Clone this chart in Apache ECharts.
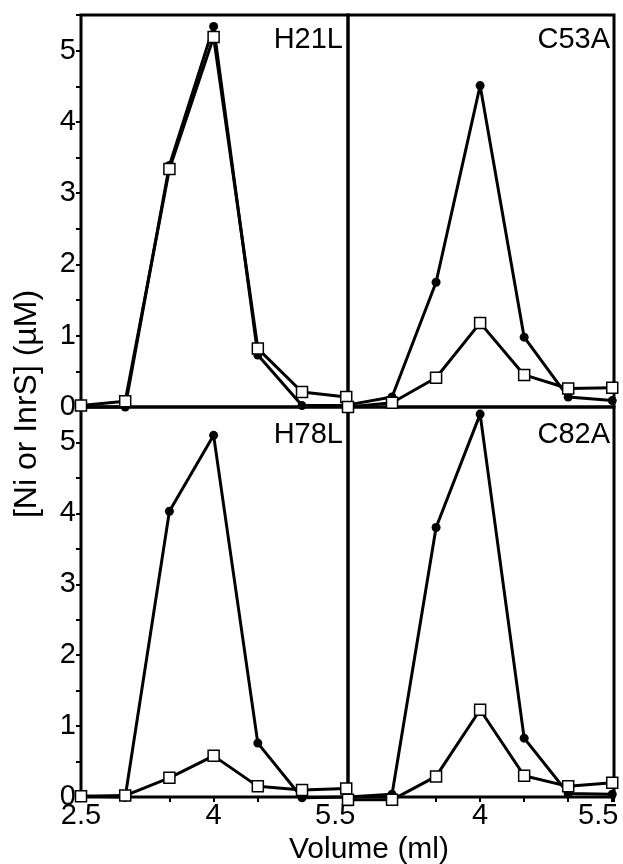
<!DOCTYPE html>
<html>
<head>
<meta charset="utf-8">
<script src="https://cdn.jsdelivr.net/npm/echarts@6/dist/echarts.min.js"></script>
<style>
html, body { margin: 0; padding: 0; background: #fff; }
#chart { width: 623px; height: 864px; }
</style>
</head>
<body>
<div id="chart"></div>
<script>
// ---- data ----
const volume = [2.5, 3.0, 3.5, 4.0, 4.5, 5.0, 5.5];
const panelNames = ['H21L', 'C53A', 'H78L', 'C82A'];
// filled circles
const filledH21L = [0.00, 0.00, 3.39, 5.34, 0.73, 0.02, 0.02];
const filledC53A = [0.03, 0.14, 1.75, 4.51, 0.98, 0.14, 0.09];
const filledH78L = [0.01, 0.00, 4.03, 5.10, 0.76, -0.01, 0.00];
const filledC82A = [0.00, 0.04, 3.80, 5.40, 0.83, 0.05, 0.04];
// open squares
const openH21L = [0.02, 0.08, 3.34, 5.19, 0.82, 0.21, 0.14];
const openC53A = [0.00, 0.06, 0.41, 1.18, 0.45, 0.26, 0.27];
const openH78L = [0.01, 0.02, 0.27, 0.58, 0.15, 0.10, 0.12];
const openC82A = [-0.04, -0.04, 0.29, 1.23, 0.30, 0.15, 0.20];
const xTickLabels = [2.5, 4, 5.5];
const yTickLabels = [0, 1, 2, 3, 4, 5];

const filledSets = [filledH21L, filledC53A, filledH78L, filledC82A];
const openSets = [openH21L, openC53A, openH78L, openC82A];

const FONT = '"Liberation Sans", Arial, Helvetica, sans-serif';
const grids = [
  { left: 81, top: 15, width: 267, height: 392 },
  { left: 348, top: 15, width: 266, height: 392 },
  { left: 81, top: 407, width: 267, height: 390 },
  { left: 348, top: 407, width: 266, height: 390 }
];

const near = (a, b) => Math.abs(a - b) < 1e-6;

const xAxes = grids.map((g, i) => {
  const bottomRow = i >= 2;
  const leftCol = i % 2 === 0;
  return {
    type: 'value', gridIndex: i, min: 2.5, max: 5.52, interval: 0.5,
    axisLine: { show: false },
    splitLine: { show: false },
    axisTick: { show: bottomRow, length: 5, lineStyle: { color: '#000', width: 2 } },
    axisLabel: {
      show: bottomRow, margin: 4, color: '#000', fontSize: 29, fontFamily: FONT,
      showMinLabel: true, showMaxLabel: true,
      formatter: function (v) {
        if (!leftCol && near(v, xTickLabels[0])) return '';
        for (const t of xTickLabels) {
          if (near(v, t)) {
            if (near(t, xTickLabels[xTickLabels.length - 1])) return '{s|' + t + '}';
            return String(t);
          }
        }
        return '';
      },
      rich: { s: { fontSize: 29, fontFamily: FONT, color: '#000', padding: leftCol ? [0, 22, 0, 0] : [0, 28, 0, 0] } }
    }
  };
});

const yAxes = grids.map((g, i) => {
  const leftCol = i % 2 === 0;
  return {
    type: 'value', gridIndex: i, min: 0, max: 5.5, interval: 0.5,
    axisLine: { show: false },
    splitLine: { show: false },
    axisTick: { show: leftCol, length: 5, lineStyle: { color: '#000', width: 2 } },
    axisLabel: {
      show: leftCol, margin: 5, color: '#000', fontSize: 29, fontFamily: FONT,
      showMaxLabel: true,
      formatter: function (v) {
        for (const t of yTickLabels) if (near(v, t)) return String(t);
        return '';
      }
    }
  };
});

const series = [];
panelNames.forEach((name, i) => {
  series.push({
    name: name + ' filled', type: 'line', xAxisIndex: i, yAxisIndex: i,
    data: volume.map((v, k) => [v, filledSets[i][k]]),
    symbol: 'circle', symbolSize: 9, clip: false, z: 3,
    lineStyle: { color: '#000', width: 3 },
    itemStyle: { color: '#000', borderColor: '#000', borderWidth: 0 }
  });
  series.push({
    name: name + ' open', type: 'line', xAxisIndex: i, yAxisIndex: i,
    data: volume.map((v, k) => [v, openSets[i][k]]),
    symbol: 'rect', symbolSize: 11, clip: false, z: 4,
    lineStyle: { color: '#000', width: 3 },
    itemStyle: { color: '#fff', borderColor: '#000', borderWidth: 1.5 }
  });
});

const panelLabelPos = [
  { x: 343, y: 40 }, { x: 610, y: 40 }, { x: 343, y: 435 }, { x: 610, y: 435 }
];

const graphics = panelNames.map((name, i) => ({
  type: 'text', x: panelLabelPos[i].x, y: panelLabelPos[i].y, z: 10,
  style: { text: name, align: 'right', verticalAlign: 'middle', font: '29px ' + FONT, fill: '#000' }
}));
graphics.push({
  type: 'text', x: 27, y: 404, rotation: Math.PI / 2, z: 10,
  style: { text: '[Ni or InrS] (\u00b5M)', align: 'center', verticalAlign: 'middle', font: '32px ' + FONT, fill: '#000' }
});
graphics.push({
  type: 'text', x: 369, y: 850, z: 10,
  style: { text: 'Volume (ml)', align: 'center', verticalAlign: 'middle', font: '30px ' + FONT, fill: '#000' }
});

const chart = echarts.init(document.getElementById('chart'), null, { renderer: 'canvas' });
chart.setOption({
  animation: false,
  backgroundColor: '#fff',
  grid: grids.map(g => Object.assign({ show: true, borderColor: '#000', borderWidth: 3, backgroundColor: 'transparent', containLabel: false }, g)),
  xAxis: xAxes,
  yAxis: yAxes,
  series: series,
  graphic: graphics
});
</script>
</body>
</html>
